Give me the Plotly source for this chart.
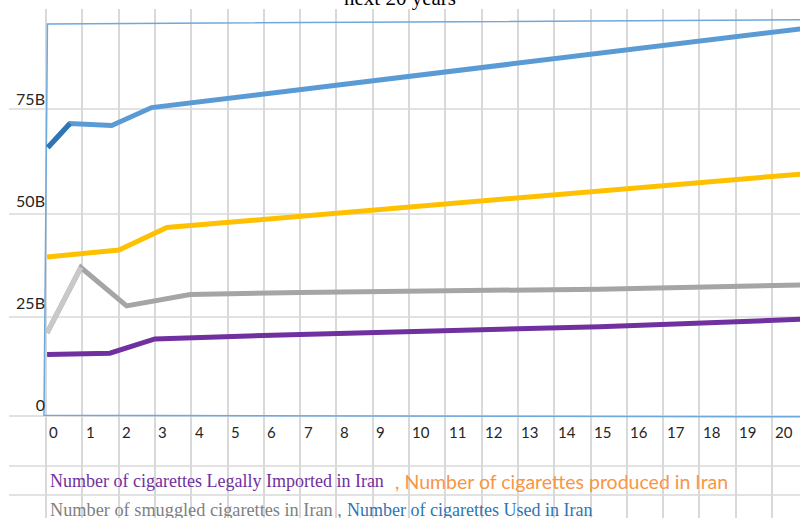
import plotly.graph_objects as go

# ---- data (billions of cigarettes) ----
used_x = [0.05, 0.66, 1.81, 2.91, 20.8]
used_y = [63.1, 69.0, 68.5, 72.9, 92.2]

produced_x = [0.03, 2.01, 3.33, 20.8]
produced_y = [36.3, 38.0, 43.5, 56.6]

smuggled_x = [0.03, 0.96, 2.22, 3.97, 7.0, 15.26, 20.8]
smuggled_y = [17.7, 33.7, 24.3, 27.1, 27.6, 28.4, 29.4]

imported_x = [0.03, 1.76, 3.0, 7.0, 15.26, 20.8]
imported_y = [12.4, 12.7, 16.2, 17.3, 19.2, 21.0]

y_tickvals = [0, 25, 50, 75]
y_ticktext = ["0", "25B", "50B", "75B"]
x_ticklabels = [str(i) for i in range(21)]

# spreadsheet-like background cell rows (values on the y scale)
row_lines = [72.55, 46.81, 21.57, -2.70, -14.95, -22.06]

# outline of the pasted chart area
frame_x = [20.8, 0.04, -0.055, 20.8]
frame_y = [94.4, 93.4, -2.5, -2.9]

W, H = 800, 518
fig = go.Figure()

fig.add_trace(go.Scatter(x=frame_x, y=frame_y, mode="lines",
                         line=dict(color="#6FA8DC", width=1.5),
                         hoverinfo="skip", showlegend=False))

def add_series(xs, ys, color, first_color=None, width=5):
    fig.add_trace(go.Scatter(x=xs, y=ys, mode="lines",
                             line=dict(color=color, width=width),
                             showlegend=False))
    if first_color:
        fig.add_trace(go.Scatter(x=xs[:2], y=ys[:2], mode="lines",
                                 line=dict(color=first_color, width=width),
                                 showlegend=False))

add_series(imported_x, imported_y, "#7030A0")
add_series(smuggled_x, smuggled_y, "#A5A5A5", first_color="#C9C9C9")
add_series(produced_x, produced_y, "#FFC000")
add_series(used_x, used_y, "#5B9BD5", first_color="#2E75B6")

for v in row_lines:
    fig.add_shape(type="line", xref="x", yref="y", x0=-1.02, x1=21.5,
                  y0=v, y1=v, line=dict(color="#D9D9D9", width=1.5),
                  layer="below")

for i, t in enumerate(x_ticklabels):
    fig.add_annotation(x=i + 0.04, y=1 - 432 / H, xref="x", yref="paper",
                       text=t, showarrow=False, xanchor="left", yanchor="middle",
                       font=dict(family="Lato", size=15, color="#262626"))

legend_items = [
    ("Number of cigarettes Legally Imported in Iran", "#7030A0", "Liberation Serif", 18, 48, 481),
    (", Number of cigarettes produced in Iran", "#F79646", "Lato", 19.5, 393, 481),
    ("Number of smuggled cigarettes in Iran ,", "#7F7F7F", "Liberation Serif", 18.3, 48, 510),
    ("Number of cigarettes Used in Iran", "#2E75B6", "Liberation Serif", 18, 345, 510),
]
for text, col, fam, size, px, py in legend_items:
    fig.add_annotation(x=px / W, y=1 - py / H, xref="paper", yref="paper",
                       text=text, showarrow=False, xanchor="left", yanchor="middle",
                       font=dict(family=fam, size=size, color=col))

fig.add_annotation(x=400 / W, y=1 + 2 / H, xref="paper", yref="paper",
                   text="next 20 years", showarrow=False, xanchor="center",
                   yanchor="middle", font=dict(family="Liberation Serif", size=21, color="#000000"))

fig.update_layout(
    width=W, height=H, autosize=False,
    margin=dict(l=0, r=0, t=0, b=0),
    paper_bgcolor="white", plot_bgcolor="white",
    xaxis=dict(domain=[9 / W, 1], range=[(9 - 46) / 36.3, (800 - 46) / 36.3],
               showgrid=True, gridcolor="#D9D9D9", gridwidth=1.5,
               tick0=-1, dtick=1, showticklabels=False, zeroline=False,
               showline=False, ticks=""),
    yaxis=dict(domain=[0, 509 / H], range=[(405 - 518) / 4.08, (405 - 9) / 4.08],
               anchor="free", position=45 / W,
               tickvals=y_tickvals, ticktext=y_ticktext,
               showgrid=False, zeroline=False, showline=False, ticks="",
               tickfont=dict(family="Lato", size=16, color="#262626")),
)

fig.write_html("out.html", config={"displayModeBar": False},
               post_script="document.body.style.margin='0';")
